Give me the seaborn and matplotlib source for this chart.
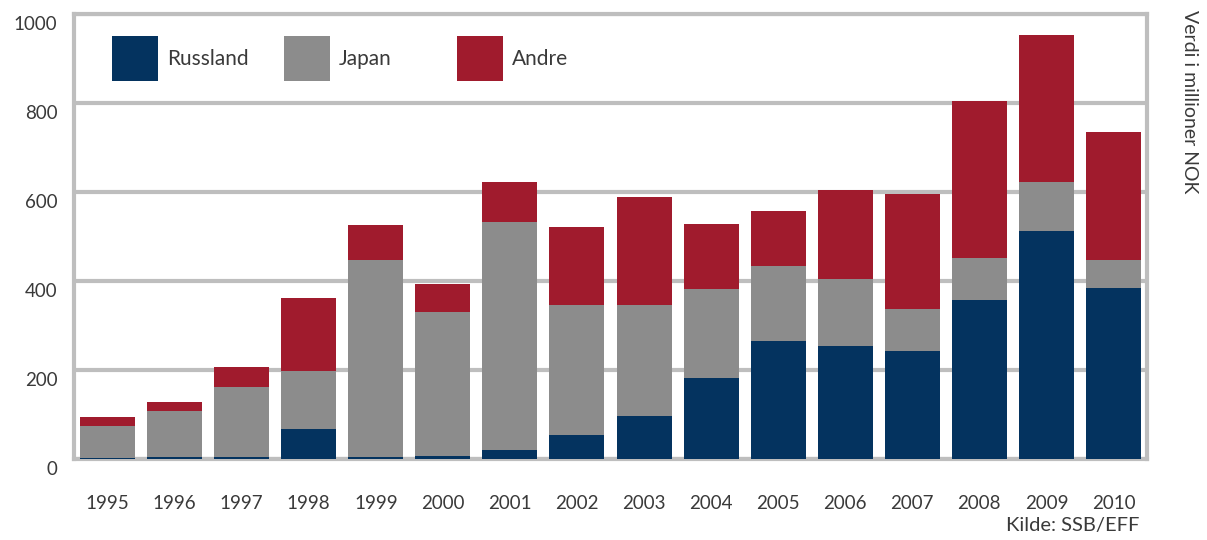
import numpy as np
import pandas as pd
import matplotlib
matplotlib.use("Agg")
import matplotlib.pyplot as plt
import matplotlib.transforms as mtransforms
from matplotlib.patches import Patch
import seaborn as sns

years = ["1995", "1996", "1997", "1998", "1999", "2000", "2001", "2002",
         "2003", "2004", "2005", "2006", "2007", "2008", "2009", "2010"]
russland = [3, 5, 4, 67, 4, 6, 21, 55, 96, 182, 266, 253, 242, 358, 512, 385]
japan = [72, 103, 158, 131, 443, 324, 512, 290, 249, 200, 168, 151, 96, 94, 110, 63]
andre = [20, 20, 45, 164, 79, 63, 90, 176, 243, 146, 124, 201, 257, 352, 330, 286]

series_names = ["Russland", "Japan", "Andre"]
colors = {"Russland": "#04335F", "Japan": "#8C8C8C", "Andre": "#A01B2D"}

df = pd.DataFrame({"year": years, "Russland": russland, "Japan": japan, "Andre": andre})
df["r_top"] = df["Russland"]
df["j_top"] = df["Russland"] + df["Japan"]
df["a_top"] = df["j_top"] + df["Andre"]

sns.set_theme(style="white")
plt.rcParams["font.family"] = ["Lato", "DejaVu Sans"]
text_color = "#3a3a3a"
grid_color = "#BEBEBE"

fig = plt.figure(figsize=(12.07, 5.40), dpi=100)
ax = fig.add_axes([74 / 1207, 1 - 459 / 540, (1147 - 74) / 1207, (459 - 14) / 540])

# stacked bars: draw cumulative heights from the tallest down
for col, name in [("a_top", "Andre"), ("j_top", "Japan"), ("r_top", "Russland")]:
    sns.barplot(data=df, x="year", y=col, color=colors[name], saturation=1,
                width=0.82, linewidth=0, ax=ax, zorder=3)

ax.set_ylim(0, 1000)
ax.set_yticks([0, 200, 400, 600, 800, 1000])
ax.set_xlabel("")
ax.set_ylabel("")
ax.yaxis.grid(True, color=grid_color, linewidth=3, zorder=0)
ax.set_axisbelow(True)
for side in ["top", "bottom", "left", "right"]:
    ax.spines[side].set_visible(True)
    ax.spines[side].set_color(grid_color)
    ax.spines[side].set_linewidth(3)

ax.tick_params(axis="both", length=0, labelsize=13.5, colors=text_color)
ax.tick_params(axis="x", pad=26)
ax.tick_params(axis="y", pad=12)
offset = mtransforms.ScaledTranslation(0, -9 / 100, fig.dpi_scale_trans)
for lbl in ax.get_yticklabels():
    lbl.set_transform(lbl.get_transform() + offset)

# legend entries laid out in equal-width columns
col_x = [0.0354, 0.1957, 0.3569]
legends = []
for name, x0 in zip(series_names, col_x):
    leg = ax.legend(handles=[Patch(facecolor=colors[name], edgecolor="none", label=name)],
                    loc="center left", bbox_to_anchor=(x0, 0.9), frameon=False,
                    fontsize=15, handlelength=2.2, handleheight=3.0,
                    handletextpad=0.45, borderpad=0, borderaxespad=0,
                    labelcolor=text_color)
    legends.append(leg)
for leg in legends[:-1]:
    ax.add_artist(leg)

fig.text(1190 / 1207, 1 - 10 / 540, "Verdi i millioner NOK", rotation=270,
         ha="center", va="top", fontsize=14, color=text_color)
fig.text(1139 / 1207, 1 - 526 / 540, "Kilde: SSB/EFF", ha="right", va="center",
         fontsize=14.5, color=text_color)

fig.savefig("out.png", dpi=100, facecolor="white")
